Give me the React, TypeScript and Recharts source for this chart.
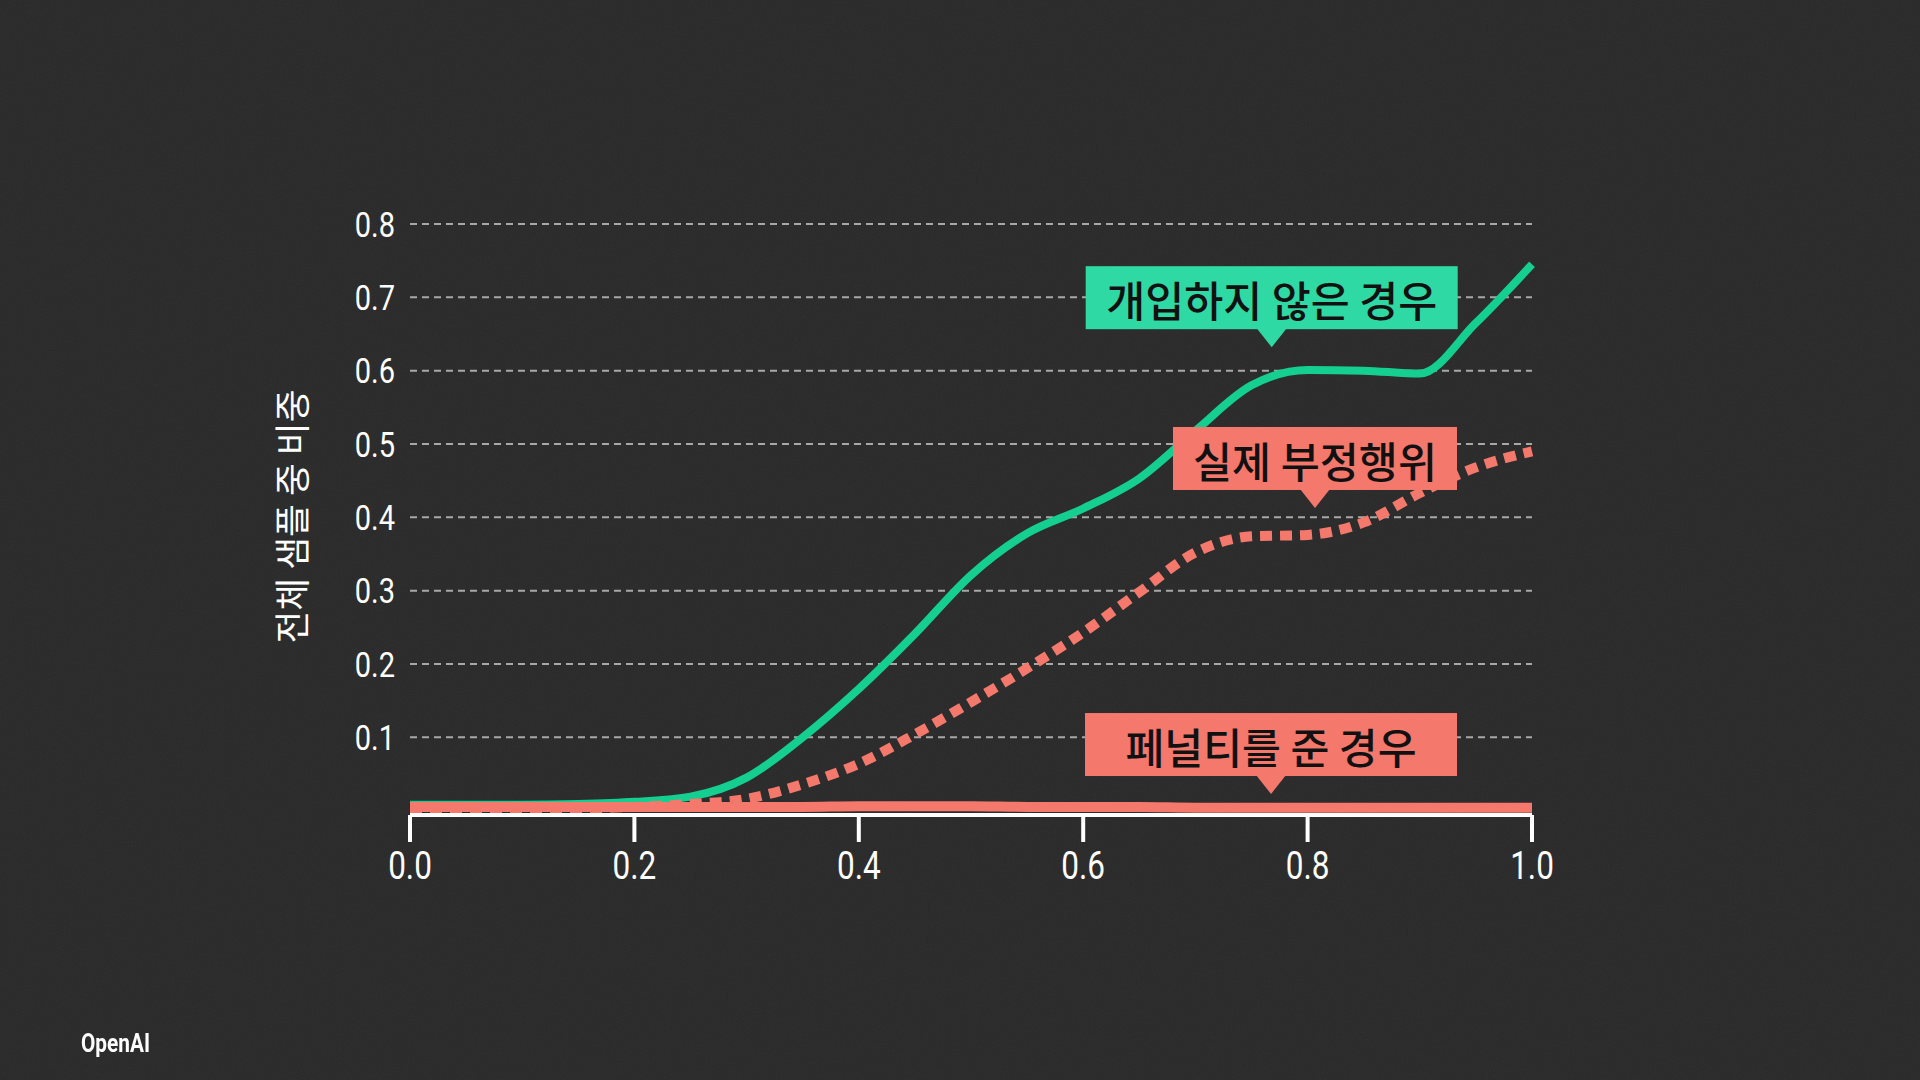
import { LineChart, Line, XAxis, YAxis, CartesianGrid, ReferenceDot, Label } from 'recharts'

// values
const xValues = [0, 0.05, 0.1, 0.15, 0.2, 0.25, 0.3, 0.35, 0.4, 0.45, 0.5, 0.55, 0.6, 0.65, 0.7, 0.75, 0.8, 0.85, 0.9, 0.95, 1.0]
const noIntervention = [0.008, 0.008, 0.008, 0.009, 0.012, 0.019, 0.045, 0.1, 0.166, 0.241, 0.321, 0.378, 0.412, 0.453, 0.518, 0.58, 0.601, 0.6, 0.596, 0.665, 0.745]
const actualCheating = [0.001, 0.001, 0.002, 0.003, 0.005, 0.009, 0.016, 0.036, 0.064, 0.104, 0.148, 0.194, 0.243, 0.298, 0.352, 0.374, 0.376, 0.393, 0.433, 0.468, 0.49]
const withPenalty = [0.005, 0.005, 0.005, 0.005, 0.005, 0.005, 0.005, 0.005, 0.006, 0.006, 0.006, 0.005, 0.005, 0.005, 0.004, 0.004, 0.004, 0.004, 0.004, 0.004, 0.004]

const xTicks = [0, 0.2, 0.4, 0.6, 0.8, 1.0]
const yTicks = [0.1, 0.2, 0.3, 0.4, 0.5, 0.6, 0.7, 0.8]

const calloutTexts = ['개입하지 않은 경우', '실제 부정행위', '페널티를 준 경우']

const data = xValues.map((x, i) => ({
  x,
  free: noIntervention[i],
  cheat: actualCheating[i],
  penalty: withPenalty[i],
}))

const BG = '#292929'
const GREEN_LINE = '#14cf90'
const GREEN_BOX = '#2fd9a4'
const RED = '#f4786c'
const NUM_FONT = "Roboto, 'Noto Sans', sans-serif"
const KR_FONT = "'Noto Sans CJK KR', 'Noto Sans', sans-serif"
const SQUEEZE = 0.83

function XTick(props: any) {
  const { x, y, payload } = props
  return (
    <g transform={`translate(${x},${y})`}>
      <text transform={`scale(${SQUEEZE},1)`} textAnchor="middle" dy="0.71em" fill="#fff" fontSize={38} fontFamily={NUM_FONT}>
        {Number(payload.value).toFixed(1)}
      </text>
    </g>
  )
}

function YTick(props: any) {
  const { x, y, payload } = props
  return (
    <g transform={`translate(${x},${y})`}>
      <text transform={`scale(${SQUEEZE},1)`} textAnchor="end" dy="0.36em" fill="#fff" fontSize={35} fontFamily={NUM_FONT}>
        {Number(payload.value).toFixed(1)}
      </text>
    </g>
  )
}

interface CalloutProps {
  cx?: number
  cy?: number
  text: string
  width: number
  textWidth: number
  fill: string
}

function Callout({ cx = 0, cy = 0, text, width, textWidth, fill }: CalloutProps) {
  const h = 63
  const tri = 18
  const half = 15
  const bottom = cy - tri
  return (
    <g>
      <rect x={cx - width / 2} y={bottom - h} width={width} height={h} fill={fill} />
      <polygon points={`${cx - half},${bottom - 1} ${cx + half},${bottom - 1} ${cx},${cy}`} fill={fill} />
      <text
        x={cx}
        y={bottom - h / 2 + 1}
        textAnchor="middle"
        dominantBaseline="central"
        fill="#111"
        fontSize={42}
        fontWeight={500}
        fontFamily={KR_FONT}
        textLength={textWidth}
        lengthAdjust="spacingAndGlyphs"
      >
        {text}
      </text>
    </g>
  )
}

function renderYLabel(props: any) {
  const { x, y, width, height } = props.viewBox
  const cx = x + width - 120
  const cy = y + height / 2 - 3
  return (
    <text
      x={cx}
      y={cy}
      transform={`rotate(-90 ${cx} ${cy})`}
      textAnchor="middle"
      dominantBaseline="central"
      fill="#fff"
      fontSize={36}
      fontFamily={KR_FONT}
      textLength={254}
      lengthAdjust="spacingAndGlyphs"
    >
      전체 샘플 중 비중
    </text>
  )
}

export default function App() {
  return (
    <div style={{ position: 'absolute', left: 0, top: 0, width: 1920, height: 1080, background: BG, overflow: 'hidden' }}>
      <svg width={1920} height={1080} style={{ position: 'absolute', left: 0, top: 0 }}>
        <filter id="grain">
          <feTurbulence type="fractalNoise" baseFrequency="0.9" numOctaves={2} stitchTiles="stitch" />
          <feColorMatrix type="saturate" values="0" />
        </filter>
        <rect width={1920} height={1080} filter="url(#grain)" opacity={0.05} />
      </svg>
      <div style={{ position: 'absolute', left: 0, top: 0 }}>
        <LineChart width={1920} height={1080} data={data} margin={{ top: 224, right: 388, bottom: 185, left: 0 }}>
          <CartesianGrid horizontal vertical={false} stroke="#a8a8a8" strokeDasharray="7 5" strokeWidth={2} />
          <XAxis
            dataKey="x"
            type="number"
            domain={[0, 1]}
            ticks={xTicks}
            height={80}
            axisLine={{ stroke: '#fff', strokeWidth: 4 }}
            tickLine={{ stroke: '#fff', strokeWidth: 4 }}
            tickSize={27}
            tickMargin={10}
            tick={<XTick />}
          />
          <YAxis
            type="number"
            domain={[-0.006, 0.8]}
            ticks={yTicks}
            width={410}
            axisLine={false}
            tickLine={false}
            tickMargin={9}
            tick={<YTick />}
          >
            <Label content={renderYLabel} />
          </YAxis>
          <Line type="monotone" dataKey="free" stroke={GREEN_LINE} strokeWidth={8} dot={false} isAnimationActive={false} />
          <Line type="monotone" dataKey="cheat" stroke={RED} strokeWidth={10} strokeDasharray="12 8" dot={false} isAnimationActive={false} />
          <Line type="monotone" dataKey="penalty" stroke={RED} strokeWidth={10} dot={false} isAnimationActive={false} />
          <ReferenceDot
            x={0.768}
            y={0.632}
            r={0}
            shape={(p: any) => <Callout cx={p.cx} cy={p.cy} text={calloutTexts[0]} width={372} textWidth={331} fill={GREEN_BOX} />}
          />
          <ReferenceDot
            x={0.8066}
            y={0.4127}
            r={0}
            shape={(p: any) => <Callout cx={p.cx} cy={p.cy} text={calloutTexts[1]} width={284} textWidth={244} fill={RED} />}
          />
          <ReferenceDot
            x={0.7674}
            y={0.0226}
            r={0}
            shape={(p: any) => <Callout cx={p.cx} cy={p.cy} text={calloutTexts[2]} width={372} textWidth={291} fill={RED} />}
          />
        </LineChart>
      </div>
      <div
        style={{
          position: 'absolute',
          left: 81,
          top: 1028,
          color: '#fff',
          fontFamily: NUM_FONT,
          fontWeight: 700,
          fontSize: 26,
          transform: 'scaleX(0.8)',
          transformOrigin: 'left top',
        }}
      >
        OpenAI
      </div>
    </div>
  )
}
